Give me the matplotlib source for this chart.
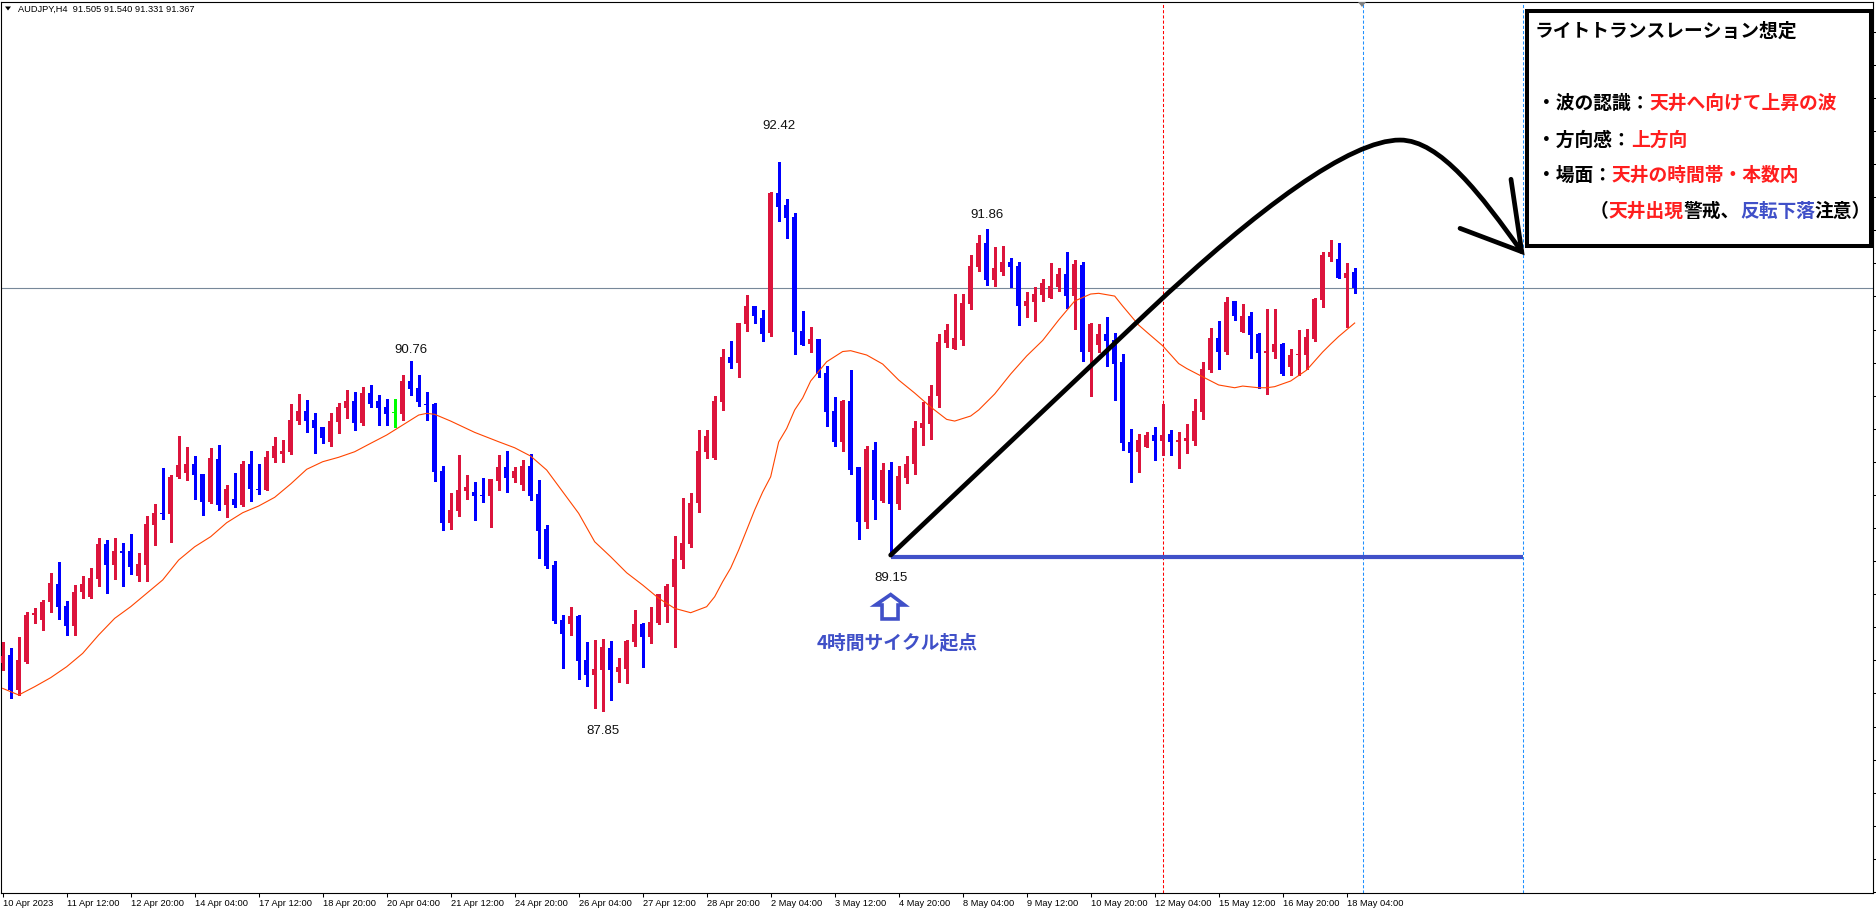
import numpy as np
import matplotlib.pyplot as plt
from matplotlib.patches import Rectangle, Polygon, PathPatch
from matplotlib.path import Path

# AUDJPY H4 candles, 10 Apr 2023 -> 18 May 2023
opens = [88.255, 88.317, 88.030, 88.259, 88.652, 88.612, 88.762, 88.909, 88.726, 88.560,
         88.842, 88.801, 88.951, 89.242, 89.067, 89.184, 89.184, 88.976, 89.067, 89.400,
         89.500, 89.491, 89.799, 89.832, 89.907, 89.824, 89.591, 89.948, 89.566, 89.616,
         89.566, 89.907, 89.699, 89.691, 89.957, 89.990, 90.007, 90.264, 90.347, 90.273,
         90.215, 90.090, 90.256, 90.373, 90.431, 90.248, 90.497, 90.431, 90.381, 90.331,
         90.323, 90.597, 90.539, 90.406, 90.406, 89.849, 89.419, 89.519, 89.683, 89.674,
         89.650, 89.641, 89.766, 89.882, 89.790, 89.732, 89.890, 89.658, 89.367, 89.067,
         88.610, 88.577, 88.643, 88.278, 88.153, 88.195, 88.378, 88.178, 88.203, 88.427,
         88.577, 88.469, 88.585, 88.718, 88.884, 89.109, 89.242, 89.583, 90.007, 89.957,
         90.422, 90.796, 90.747, 91.071, 91.220, 91.121, 90.996, 92.162, 92.060, 91.960,
         91.013, 90.907, 90.946, 90.663, 90.348, 90.092, 90.431, 89.882, 89.427, 90.023,
         89.602, 89.857, 89.577, 89.793, 89.909, 90.209, 90.242, 90.475, 90.915, 90.865,
         90.940, 91.240, 91.547, 91.744, 91.439, 91.505, 91.586, 91.555, 91.223, 91.256,
         91.314, 91.289, 91.381, 91.486, 91.306, 91.561, 90.840, 90.899, 90.988, 90.938,
         90.755, 90.090, 90.009, 90.051, 90.148, 90.101, 90.156, 90.092, 90.101, 90.101,
         90.342, 90.691, 90.954, 90.840, 91.262, 91.007, 91.137, 90.988, 90.832, 90.840,
         90.904, 90.716, 90.816, 90.816, 90.949, 91.273, 91.630, 91.611, 91.456, 91.505]
highs = [88.425, 88.378, 88.469, 88.676, 88.712, 88.776, 89.003, 89.092, 88.768, 88.901,
         88.975, 89.042, 89.292, 89.275, 89.292, 89.250, 89.325, 89.167, 89.475, 89.575,
         89.874, 89.815, 90.140, 90.048, 89.973, 89.824, 90.040, 90.065, 89.732, 89.832,
         89.932, 90.015, 89.907, 90.015, 90.131, 90.107, 90.406, 90.489, 90.439, 90.331,
         90.215, 90.331, 90.414, 90.522, 90.505, 90.547, 90.564, 90.481, 90.447, 90.447,
         90.647, 90.760, 90.647, 90.505, 90.414, 89.890, 89.666, 89.982, 89.816, 89.757,
         89.790, 89.785, 89.982, 90.015, 89.882, 89.940, 89.990, 89.774, 89.400, 89.101,
         88.652, 88.718, 88.652, 88.427, 88.444, 88.452, 88.436, 88.294, 88.444, 88.693,
         88.585, 88.718, 88.826, 88.909, 89.308, 89.624, 89.666, 90.190, 90.190, 90.472,
         90.863, 90.929, 91.079, 91.312, 91.220, 91.187, 92.170, 92.420, 92.110, 91.993,
         91.179, 91.046, 90.946, 90.724, 90.464, 90.439, 90.691, 89.882, 90.057, 90.090,
         89.915, 89.924, 89.890, 89.973, 90.264, 90.422, 90.564, 90.988, 91.071, 91.320,
         91.320, 91.644, 91.811, 91.860, 91.711, 91.719, 91.619, 91.586, 91.337, 91.381,
         91.445, 91.578, 91.536, 91.669, 91.603, 91.586, 91.082, 91.073, 91.129, 90.996,
         90.821, 90.200, 90.159, 90.173, 90.215, 90.406, 90.190, 90.173, 90.240, 90.447,
         90.755, 91.038, 91.096, 91.295, 91.262, 91.237, 91.170, 90.996, 91.195, 91.195,
         90.913, 90.863, 91.021, 91.029, 91.287, 91.669, 91.769, 91.744, 91.578, 91.540]
lows = [88.195, 87.964, 87.987, 88.250, 88.587, 88.527, 88.679, 88.618, 88.486, 88.486,
        88.795, 88.795, 88.893, 88.837, 88.951, 88.893, 88.992, 88.934, 88.934, 89.234,
        89.450, 89.259, 89.791, 89.774, 89.616, 89.483, 89.583, 89.525, 89.467, 89.550,
        89.558, 89.599, 89.658, 89.691, 89.924, 89.924, 89.990, 90.240, 90.173, 89.998,
        90.082, 90.057, 90.165, 90.289, 90.190, 90.231, 90.381, 90.231, 90.231, 90.215,
        90.273, 90.481, 90.389, 90.273, 89.768, 89.358, 89.367, 89.475, 89.616, 89.442,
        89.591, 89.386, 89.691, 89.674, 89.757, 89.691, 89.608, 89.126, 89.042, 88.585,
        88.211, 88.486, 88.120, 88.062, 87.879, 87.850, 87.945, 88.095, 88.087, 88.394,
        88.220, 88.419, 88.577, 88.593, 88.386, 89.042, 89.217, 89.508, 89.957, 89.948,
        90.356, 90.705, 90.630, 91.013, 91.079, 90.929, 90.973, 91.929, 91.788, 90.824,
        90.899, 90.840, 90.633, 90.225, 90.059, 90.018, 89.826, 89.286, 89.377, 89.452,
        89.594, 89.150, 89.535, 89.752, 89.826, 90.067, 90.117, 90.381, 90.882, 90.865,
        90.899, 91.198, 91.514, 91.397, 91.389, 91.481, 91.381, 91.065, 91.131, 91.098,
        91.264, 91.289, 91.348, 91.206, 91.032, 90.766, 90.475, 90.840, 90.724, 90.442,
        90.026, 89.760, 89.843, 90.048, 89.943, 89.984, 89.984, 89.876, 90.001, 90.067,
        90.283, 90.674, 90.699, 90.824, 91.106, 91.007, 90.791, 90.541, 90.491, 90.791,
        90.649, 90.649, 90.649, 90.699, 90.932, 91.215, 91.597, 91.456, 91.048, 91.331]
closes = [88.311, 88.029, 88.278, 88.649, 88.666, 88.759, 88.917, 88.720, 88.560, 88.842,
          88.909, 88.959, 89.242, 89.067, 89.184, 89.170, 89.051, 89.076, 89.408, 89.500,
          89.491, 89.799, 89.899, 89.907, 89.816, 89.591, 89.957, 89.566, 89.699, 89.566,
          89.907, 89.699, 89.691, 89.965, 90.057, 90.015, 90.273, 90.347, 90.264, 90.206,
          90.123, 90.264, 90.381, 90.431, 90.248, 90.497, 90.406, 90.373, 90.323, 90.331,
          90.597, 90.533, 90.422, 90.397, 89.843, 89.419, 89.525, 89.691, 89.716, 89.641,
          89.645, 89.782, 89.882, 89.790, 89.851, 89.890, 89.641, 89.350, 89.059, 88.602,
          88.494, 88.643, 88.269, 88.153, 88.203, 88.386, 88.195, 88.220, 88.436, 88.577,
          88.469, 88.593, 88.826, 88.893, 89.117, 89.250, 89.583, 90.015, 90.140, 90.431,
          90.796, 90.747, 91.079, 91.220, 91.137, 90.988, 92.162, 92.046, 91.954, 91.007,
          90.899, 90.946, 90.658, 90.342, 90.092, 90.431, 89.860, 89.427, 90.032, 89.610,
          89.857, 89.577, 89.807, 89.907, 90.206, 90.248, 90.472, 90.921, 91.021, 90.954,
          91.245, 91.553, 91.744, 91.439, 91.539, 91.586, 91.547, 91.223, 91.262, 91.323,
          91.411, 91.387, 91.486, 91.306, 91.570, 90.840, 91.073, 90.988, 90.932, 90.741,
          90.084, 90.001, 90.107, 90.148, 90.101, 90.148, 90.092, 90.107, 90.123, 90.347,
          90.697, 90.954, 90.840, 91.254, 91.140, 91.137, 90.982, 90.832, 90.846, 90.904,
          90.658, 90.813, 90.821, 90.963, 91.279, 91.644, 91.669, 91.456, 91.495, 91.367]

# moving average (orange line), sampled along the curve
ma_idx = [0, 2, 4, 6, 8, 10, 12, 14, 16, 18, 20, 22, 24, 26, 28, 30, 32, 34, 36, 38,
          40, 42, 44, 46, 48, 50, 52, 53, 54, 56, 59, 62, 64, 66, 68, 70, 72, 74, 76, 78,
          80, 82, 84, 86, 88, 89, 90, 91, 92, 93, 94, 95, 96, 97, 98, 99, 100, 101, 103, 105,
          106, 108, 110, 112, 114, 116, 118, 119, 121, 122, 124, 126, 128, 130, 132, 134, 136, 137, 139, 140,
          142, 143, 145, 147, 148, 150, 152, 154, 155, 157, 158, 159, 161, 163, 165, 166, 167, 169]
ma_val = [88.042, 87.987, 88.056, 88.131, 88.222, 88.333, 88.486, 88.624, 88.721, 88.832,
          88.943, 89.109, 89.219, 89.303, 89.419, 89.502, 89.558, 89.630, 89.741, 89.863,
          89.926, 89.963, 90.009, 90.079, 90.148, 90.231, 90.314, 90.328, 90.320, 90.264,
          90.170, 90.092, 90.042, 89.973, 89.857, 89.677, 89.497, 89.261, 89.136, 89.003,
          88.901, 88.791, 88.707, 88.671, 88.721, 88.804, 88.929, 89.042, 89.192, 89.358,
          89.525, 89.674, 89.801, 90.090, 90.202, 90.356, 90.456, 90.597, 90.757, 90.842,
          90.849, 90.813, 90.738, 90.605, 90.497, 90.381, 90.278, 90.264, 90.306, 90.356,
          90.489, 90.655, 90.805, 90.934, 91.104, 91.262, 91.320, 91.326, 91.303, 91.220,
          91.062, 91.004, 90.890, 90.742, 90.701, 90.632, 90.564, 90.541, 90.555, 90.541,
          90.541, 90.550, 90.597, 90.688, 90.838, 90.904, 90.967, 91.079]

tick_idx = list(range(0, 169, 8))
tick_labels = ["10 Apr 2023", "11 Apr 12:00", "12 Apr 20:00", "14 Apr 04:00", "17 Apr 12:00",
               "18 Apr 20:00", "20 Apr 04:00", "21 Apr 12:00", "24 Apr 20:00", "26 Apr 04:00",
               "27 Apr 12:00", "28 Apr 20:00", "2 May 04:00", "3 May 12:00", "4 May 20:00",
               "8 May 04:00", "9 May 12:00", "10 May 20:00", "12 May 04:00", "15 May 12:00",
               "16 May 20:00", "18 May 04:00"]

# swing labels: (candle, label y, text)
swing_labels = [(51, 90.855, "90.76"), (97, 92.720, "92.42"), (75, 87.688, "87.85"),
                (123, 91.977, "91.86"), (111, 88.957, "89.15")]

# hand drawn black arrow: straight leg, then two bezier legs (candle index, price)
arrow_pts = [(111.0, 89.150), (143.17, 91.173),
             (156.92, 92.034), (168.42, 92.600), (174.67, 92.600),
             (179.67, 92.600), (184.88, 92.137), (189.88, 91.672)]
arrow_codes = [Path.MOVETO, Path.LINETO,
               Path.CURVE4, Path.CURVE4, Path.CURVE4,
               Path.CURVE4, Path.CURVE4, Path.CURVE4]

RED = "#DC143C"
BLUE = "#0000FF"
LIME = "#00FF00"
MARK = "#4050C8"
TXT_RED = "#FF1E1E"
CJK = ["Noto Sans CJK JP", "DejaVu Sans"]
LAT = ["Liberation Sans", "DejaVu Sans"]

W, H = 1876, 913
fig = plt.figure(figsize=(W / 100, H / 100), dpi=100)
fig.patch.set_facecolor("white")
ax = fig.add_axes([1 / W, 1 - 893 / H, 1872 / W, 891 / H])

# candle i sits at pixel 2.67 + 8 i ; 92.42 sits at pixel row 161.7, 120.3 px per yen
ax.set_xlim((1 - 2.67) / 8, (1873 - 2.67) / 8)
ax.set_ylim(92.42 - (893 - 161.7) / 120.3, 92.42 + (161.7 - 2) / 120.3)

o = np.array(opens)
h = np.array(highs)
l = np.array(lows)
c = np.array(closes)
idx = np.arange(len(o))
cols = np.where(c > o, RED, np.where(c < o, BLUE, LIME))

ax.vlines(idx, l, h, colors=cols, lw=0.75, antialiased=False, zorder=3)
px = 1 / 120.3
body_h = np.maximum(np.abs(c - o), px)
body_b = np.minimum(o, c)
ax.bar(idx, body_h, bottom=body_b, width=0.68, color=cols, lw=0, antialiased=False, zorder=3)

ax.plot(ma_idx, ma_val, color="#FF4500", lw=0.8, zorder=4)

# current price line and vertical markers
ax.axhline(closes[-1], color="#778899", lw=0.8, zorder=1)
ax.axvline(145, color="#FF0000", lw=0.75, ls=(0, (3, 2)), zorder=1)
ax.axvline(170, color="#1E90FF", lw=0.75, ls=(0, (3, 2)), zorder=1)
ax.axvline(190, color="#1E90FF", lw=0.75, ls=(0, (3, 2)), zorder=1)

for i, y, s in swing_labels:
    ax.text(i, y, s, ha="center", va="center", fontsize=9.5, family=LAT, color="#111111", zorder=6)

# cycle start line and hollow arrow
ax.plot([111, 190], [89.13, 89.13], color=MARK, lw=3, solid_capstyle="butt", zorder=5)
arrow = Polygon([(111, 88.822), (112.73, 88.735), (111.92, 88.735), (111.92, 88.619),
                 (109.92, 88.619), (109.92, 88.735), (109.1, 88.735)],
                closed=True, fc="white", ec=MARK, lw=2.6, joinstyle="miter", zorder=6)
ax.add_patch(arrow)
ax.text(111.85, 88.423, "4時間サイクル起点", ha="center", va="center", fontsize=13.5,
        fontweight="bold", family=CJK, color=MARK, zorder=6)

# black scenario arrow
ax.add_patch(PathPatch(Path(arrow_pts, arrow_codes), fc="none", ec="black", lw=3.4,
                       capstyle="round", joinstyle="round", zorder=7))
ax.plot([182.17, 189.88, 188.54], [91.866, 91.672, 92.274], color="black", lw=3.4,
        solid_capstyle="round", solid_joinstyle="miter", zorder=7)

# axes cosmetics
for sp in ax.spines.values():
    sp.set_color("black")
    sp.set_linewidth(0.8)
ax.set_xticks(tick_idx)
ax.set_xticklabels(tick_labels, ha="left", fontsize=6.7, family=LAT)
ax.tick_params(axis="x", direction="out", length=3, width=0.75, pad=1.5)
ax.yaxis.tick_right()
ax.set_yticks(np.arange(93.50, 86.3, -0.275))
ax.set_yticklabels([])
ax.tick_params(axis="y", direction="out", length=4, width=0.75)


def fx(x):
    return x / W


def fy(y):
    return 1 - y / H


# header
fig.text(fx(18), fy(9), "AUDJPY,H4  91.505 91.540 91.331 91.367", fontsize=6.7,
         family=LAT, va="center", ha="left")
fig.add_artist(Polygon([(fx(5), fy(6.5)), (fx(11), fy(6.5)), (fx(8), fy(10.5))],
                       closed=True, fc="black", ec="none", transform=fig.transFigure))
# chart shift marker at the top
fig.add_artist(Polygon([(fx(1358), fy(2)), (fx(1366), fy(2)), (fx(1362), fy(7))],
                       closed=True, fc="#808080", ec="none", transform=fig.transFigure))

# scenario box (kept in the axes so its texts stack above it)
ax.add_patch(Rectangle((fx(1527), fy(246)), (1871 - 1527) / W, (246 - 11) / H,
                       transform=fig.transFigure, fc="white", ec="black", lw=2.9,
                       clip_on=False, zorder=10))


def colored_line(x, y, parts, size=13.5):
    t = ax.text(fx(x), fy(y), parts[0][0], color=parts[0][1], fontsize=size,
                fontweight="bold", family=CJK, va="center", ha="left",
                transform=fig.transFigure, clip_on=False, zorder=11)
    for s, col in parts[1:]:
        t = ax.annotate(s, xy=(1, 0), xycoords=t, va="bottom", ha="left", color=col,
                        fontsize=size, fontweight="bold", family=CJK,
                        annotation_clip=False, zorder=11)
    return t


colored_line(1535, 31, [("ライトトランスレーション想定", "black")])
colored_line(1537, 103.3, [("・波の認識：", "black"), ("天井へ向けて上昇の波", TXT_RED)])
colored_line(1537, 140, [("・方向感：", "black"), ("上方向", TXT_RED)])
colored_line(1537, 175, [("・場面：", "black"), ("天井の時間帯・本数内", TXT_RED)])
colored_line(1590, 211.7, [("（", "black"), ("天井出現", TXT_RED), ("警戒、", "black"),
                           ("反転下落", MARK), ("注意）", "black")])

fig.savefig("out.png", dpi=100, facecolor="white")
